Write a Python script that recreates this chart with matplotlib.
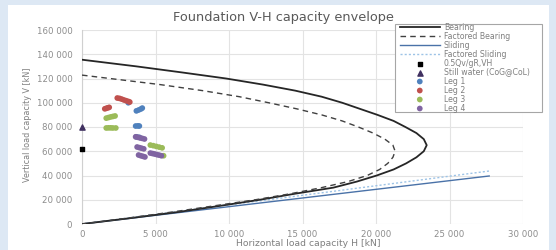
import matplotlib
matplotlib.use("Agg")
import matplotlib.pyplot as plt
from matplotlib.patches import Rectangle
from matplotlib.ticker import FuncFormatter

# ---- data ----
bearing_V = [135500, 130000, 125000, 120000, 115000, 110000, 105000, 100000, 95000, 90000,
             85000, 80000, 75000, 70000, 65000, 60000, 55000, 50000, 45000, 40000,
             35000, 30000, 25000, 20000, 15000, 10000, 5000, 0]
bearing_H = [0, 3700, 6800, 9800, 12300, 14500, 16300, 17700, 18900, 20100,
             21200, 22000, 22750, 23250, 23450, 23250, 22750, 22050, 21200, 20050,
             18700, 17100, 14500, 12100, 9400, 6600, 3400, 0]

fbearing_V = [122800, 120000, 115000, 110000, 105000, 100000, 95000, 90000, 85000, 80000,
              75000, 70000, 65000, 60000, 55000, 50000, 45000, 40000, 35000, 30000,
              25000, 20000, 15000, 10000, 5000, 0]
fbearing_H = [0, 1900, 5300, 8200, 10700, 12700, 14600, 16300, 17700, 18800,
              19800, 20600, 21150, 21300, 21150, 20800, 20250, 19400, 18100, 16300,
              14200, 11800, 9000, 6200, 3200, 0]

sliding_H = [0, 27700]
sliding_V = [0, 39600]
fsliding_H = [0, 27700]
fsliding_V = [0, 43700]

qv_H = [0]
qv_V = [61500]
still_H = [0]
still_V = [80000]

leg1_H = [3150, 3700, 3850, 4000, 4100, 3650, 3800, 3900, 3700, 3900]
leg1_V = [100000, 93300, 94000, 94800, 95600, 80800, 80900, 80800, 71900, 71500]

leg2_H = [2400, 2550, 2700, 2850, 3000, 3150, 3250, 1550, 1650, 1750, 1850]
leg2_V = [103900, 103600, 103000, 102300, 101700, 101100, 100600, 95000, 95400, 95800, 96200]

leg3_H = [1650, 1800, 1950, 2100, 2250, 1650, 1800, 1950, 2100, 2300,
          4650, 4850, 5050, 5250, 5450, 5550]
leg3_V = [87300, 87800, 88300, 88700, 89100, 79200, 79300, 79300, 79200, 79200,
          65100, 64600, 64000, 63400, 62800, 56300]

leg4_H = [3650, 3800, 3950, 4100, 4250, 3750, 3900, 4050, 4200, 3850, 4000, 4150, 4280,
          4650, 4800, 4950, 5100, 5250, 5400]
leg4_V = [71900, 71500, 71000, 70600, 70100, 63500, 63000, 62500, 62000, 56900, 56300, 55800, 55300,
          58500, 58100, 57700, 57200, 56800, 56300]

x_ticks = [0, 5000, 10000, 15000, 20000, 25000, 30000]
y_ticks = [0, 20000, 40000, 60000, 80000, 100000, 120000, 140000, 160000]

title = "Foundation V-H capacity envelope"
xlabel = "Horizontal load capacity H [kN]"
ylabel = "Vertical load capacity V [kN]"

# ---- figure ----
fig = plt.figure(figsize=(5.56, 2.5), dpi=100)
fig.patch.set_facecolor("#dde8f4")
bg = fig.add_axes([8 / 556, 0, 541 / 556, 245 / 250], zorder=-10)
bg.set_facecolor("white")
bg.set_xticks([])
bg.set_yticks([])
for s in bg.spines.values():
    s.set_visible(False)

ax = fig.add_axes([82 / 556, 1 - 224 / 250, (523 - 82) / 556, (224 - 30) / 250])
ax.set_facecolor("none")
ax.set_xlim(0, 30000)
ax.set_ylim(0, 160000)
ax.set_xticks(x_ticks)
ax.set_yticks(y_ticks)
fmt = FuncFormatter(lambda v, p: f"{int(v):,}".replace(",", " "))
ax.xaxis.set_major_formatter(fmt)
ax.yaxis.set_major_formatter(fmt)
ax.grid(True, color="#e3e3e3", linewidth=0.8, zorder=0)
ax.set_axisbelow(True)
for s in ["top", "right", "bottom"]:
    ax.spines[s].set_visible(False)
ax.spines["left"].set_color("#d0d0d0")
ax.spines["left"].set_linewidth(0.8)
ax.tick_params(length=0, labelsize=6.2, labelcolor="#8c8c8c")
ax.tick_params(axis="x", pad=4.5)
ax.tick_params(axis="y", pad=7)

ax.plot(bearing_H, bearing_V, color="#262626", lw=1.3, label="Bearing", zorder=3)
ax.plot(fbearing_H, fbearing_V, color="#404040", lw=1.0, ls=(0, (4, 3)), label="Factored Bearing", zorder=3)
ax.plot(sliding_H, sliding_V, color="#4a72a8", lw=1.0, label="Sliding", zorder=2)
ax.plot(fsliding_H, fsliding_V, color="#9dc3e6", lw=1.0, ls=(0, (1.5, 1.5)), label="Factored Sliding", zorder=2)

ms = 17
ax.scatter(qv_H, qv_V, marker="s", s=12, color="black", label="0.5Qv/gR,VH", zorder=5, clip_on=False)
ax.scatter(still_H, still_V, marker="^", s=14, color="#403060", label="Still water (CoG@CoL)", zorder=5, clip_on=False)
ax.scatter(leg1_H, leg1_V, s=ms, color="#4f81bd", label="Leg 1", zorder=4, edgecolors="none")
ax.scatter(leg2_H, leg2_V, s=ms, color="#c0504d", label="Leg 2", zorder=4, edgecolors="none")
ax.scatter(leg3_H, leg3_V, s=ms, color="#9bbb59", label="Leg 3", zorder=4, edgecolors="none")
ax.scatter(leg4_H, leg4_V, s=ms, color="#8064a2", label="Leg 4", zorder=5, edgecolors="none")

fig.text(283 / 556, 1 - 17 / 250, title, ha="center", va="center", fontsize=9.3, color="#595959")
fig.text(308 / 556, 1 - 244 / 250, xlabel, ha="center", va="center", fontsize=6.7, color="#7f7f7f")
fig.text(27 / 556, 1 - 125 / 250, ylabel, ha="center", va="center", rotation=90, fontsize=5.8,
         color="#7f7f7f", family=["Liberation Sans Narrow", "DejaVu Sans"])

# legend frame drawn as in the reference
ax.add_patch(Rectangle((395 / 556, 1 - 112 / 250), 147 / 556, 88 / 250, transform=fig.transFigure,
                       facecolor="white", edgecolor="#a6a6a6", linewidth=0.8, zorder=9, clip_on=False))
leg = ax.legend(loc="upper left", bbox_to_anchor=(398 / 556, 1 - 21 / 250),
                bbox_transform=fig.transFigure, fontsize=5.6,
                frameon=False, labelcolor="#7f7f7f",
                handlelength=5.2, handletextpad=0.5, labelspacing=0.0, borderpad=0.2,
                borderaxespad=0, markerscale=1.0)
leg.set_zorder(10)

fig.savefig("out.png", dpi=100, facecolor=fig.get_facecolor())
